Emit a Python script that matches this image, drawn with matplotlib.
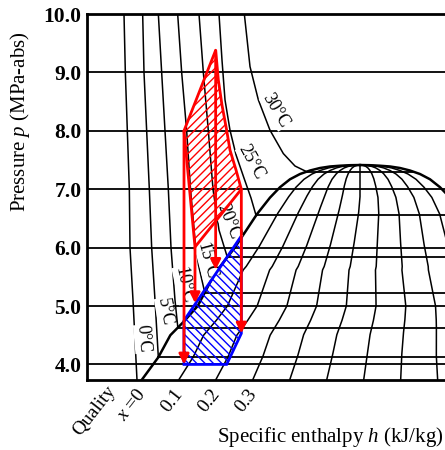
import numpy as np
import matplotlib
matplotlib.use('Agg')
import matplotlib.pyplot as plt
from matplotlib.patches import Polygon

plt.rcParams['font.family'] = ['Liberation Serif', 'DejaVu Serif']
plt.rcParams['mathtext.fontset'] = 'custom'
plt.rcParams['mathtext.rm'] = 'Liberation Serif'
plt.rcParams['mathtext.it'] = 'Liberation Serif:italic'
plt.rcParams['hatch.linewidth'] = 1.0

# ---------------- data (h in kJ/kg, p in MPa) ----------------
p_ticks = [4.0, 5.0, 6.0, 7.0, 8.0, 9.0, 10.0]

# saturation dome (liquid and vapour branches share pressure nodes)
dome_p = [3.733, 4.122, 4.5, 4.731, 5.0, 5.616, 5.673, 6.0, 6.574, 6.856, 7.034,
          7.170, 7.260, 7.320, 7.363, 7.389, 7.402, 7.411, 7.414]
liq_h = [182.8, 192.8, 200.0, 208.0, 216.4, 227.8, 229.8, 238.7, 252.0, 259.8, 265.8,
         271.8, 277.8, 283.8, 289.8, 295.8, 301.8, 307.8, 313.8]
vap_h = [404.8, 401.3, 399.6, 397.5, 394.8, 386.6, 386.0, 381.0, 373.8, 367.8, 361.8,
         355.8, 349.8, 343.8, 337.8, 331.8, 325.8, 319.8, 313.8]
qualities = [0.1, 0.2, 0.3, 0.4, 0.5, 0.6, 0.7, 0.8, 0.9]

# isotherms (liquid / supercritical part) and saturation pressures
t0_h = [172.2, 173.0, 174.2, 175.4, 175.8, 177.6, 180.0]
t0_p = [10, 9, 8, 7, 6, 5.1, 3.733]
t5_h = [183.4, 184.2, 185.8, 187.4, 188.8, 190.8]
t5_p = [10, 9, 8, 7, 6, 5.1]
t10_h = [192.8, 194.8, 196.8, 198.8, 200.4, 202.8]
t10_p = [10, 9, 8, 7, 6, 5.1]
t15_h = [204.4, 206.8, 209.8, 212.1, 214.8, 216.9]
t15_p = [10, 9, 8, 7, 6.13, 5.7]
t20_h = [217.2, 219.8, 222.8, 225.6, 229.2]
t20_p = [10, 9, 8, 7, 6.3]
t25_h = [229.2, 231.0, 232.8, 235.8, 239.4, 244.2, 248.4]
t25_p = [10, 9.21, 8.53, 8.01, 7.59, 7.19, 6.85]
t30_h = [244.4, 247.8, 252.8, 259.8, 267.8, 274.8]
t30_p = [10, 9.10, 8.53, 8.01, 7.61, 7.397]
t_sat_p = [None, 4.122, 4.63, 5.23, 5.835, 6.55, 7.30]
t_names = ['0°C', '5°C', '10°C', '15°C', '20°C', '25°C', '30°C']
t_label_h = [183.6, 196.8, 208.2, 222.0, 234.6, 248.8, 263.4]
t_label_p = [4.435, 4.897, 5.36, 5.77, 6.44, 7.457, 8.34]
t_label_rot = [-85, -80, -78, -75, -68, -61, -59]

# cycle (red, hatched high-pressure side)
red_h = [208.2, 227.2, 228.8, 231.0, 233.8, 235.8, 239.4, 242.6, 214.8]
red_p = [8.0, 9.38, 8.87, 8.44, 8.01, 7.67, 7.33, 7.0, 6.01]
arrow_h = [208.2, 214.8, 227.2, 242.6]
arrow_p_start = [8.0, 6.01, 9.38, 7.0]
arrow_p_end = [4.0, 5.05, 5.62, 4.53]
# blue hatched evaporator region
blue_h = [208.2, 242.6, 242.6, 233.8, 208.2]
blue_p = [4.75, 6.20, 4.53, 4.0, 4.0]

quality_labels = ['$x$ =0', '0.1', '0.2', '0.3']
quality_label_x = [0.0, 0.1, 0.2, 0.3]

# ---------------- figure ----------------
W, H = 445, 450
fig = plt.figure(figsize=(W / 100, H / 100), dpi=100)
ax = fig.add_axes([87 / W, (H - 380) / H, (460 - 87) / W, (380 - 14) / H])
ax.set_xlim(150, 373.8)
ax.set_ylim(3.733, 10.0)

for s in ['left', 'top', 'bottom']:
    ax.spines[s].set_linewidth(2.0)
ax.spines['right'].set_visible(False)

ax.set_xticks([])
ax.set_yticks(p_ticks)
ax.set_yticklabels(['%.1f' % v for v in p_ticks])
ax.tick_params(axis='y', length=0, pad=4, labelsize=15.5)
for lab in ax.get_yticklabels():
    lab.set_fontweight('bold')

for pv in p_ticks[:-1]:
    ax.axhline(pv, color='black', lw=1.3, zorder=1)

# dome
ax.plot(liq_h, dome_p, color='black', lw=1.8, zorder=2.5)
ax.plot(vap_h, dome_p, color='black', lw=1.8, zorder=2.5)
pg = np.union1d(np.linspace(dome_p[0], dome_p[-1], 300), dome_p)
hl = np.interp(pg, dome_p, liq_h)
hv = np.interp(pg, dome_p, vap_h)
for q in qualities:
    ax.plot(hl + q * (hv - hl), pg, color='black', lw=1.1, zorder=2)

# isotherms
iso_h = [t0_h, t5_h, t10_h, t15_h, t20_h, t25_h, t30_h]
iso_p = [t0_p, t5_p, t10_p, t15_p, t20_p, t25_p, t30_p]
for hh, pp, ps in zip(iso_h, iso_p, t_sat_p):
    hh = list(hh)
    pp = list(pp)
    if ps is not None:
        h_liq = float(np.interp(ps, dome_p, liq_h))
        h_vap = float(np.interp(ps, dome_p, vap_h))
        hh.append(h_liq)
        pp.append(ps)
        ax.plot([h_liq, h_vap], [ps, ps], color='black', lw=1.3, zorder=1.5)
    ax.plot(hh, pp, color='black', lw=1.1, zorder=2)

for name, lh, lp, rot in zip(t_names, t_label_h, t_label_p, t_label_rot):
    ax.text(lh, lp, name, rotation=rot, fontsize=13, ha='center', va='center',
            rotation_mode='anchor', zorder=3,
            bbox=dict(facecolor='white', edgecolor='none', pad=0.3))

# blue region
blue = Polygon(list(zip(blue_h, blue_p)), closed=True, facecolor='none',
               edgecolor='blue', lw=2.0, hatch='\\\\\\\\', zorder=4)
ax.add_patch(blue)

# red region
red = Polygon(list(zip(red_h, red_p)), closed=True, facecolor='none',
              edgecolor='red', lw=2.0, hatch='////', zorder=5)
ax.add_patch(red)

for h0, ps, pe in zip(arrow_h, arrow_p_start, arrow_p_end):
    ax.annotate('', xy=(h0, pe), xytext=(h0, ps),
                arrowprops=dict(arrowstyle='-|>', color='red', lw=2.0,
                                mutation_scale=15, shrinkA=0, shrinkB=0),
                zorder=6)

# quality labels along the bottom
h_bottom_l = liq_h[0]
h_bottom_v = vap_h[0]
for lab, q in zip(quality_labels, quality_label_x):
    hb = h_bottom_l + q * (h_bottom_v - h_bottom_l)
    ax.annotate(lab, xy=(hb, dome_p[0]), xytext=(8, -6), textcoords='offset pixels',
                rotation=52, ha='right', va='top', fontsize=14, annotation_clip=False)
ax.annotate('Quality', xy=(h_bottom_l, dome_p[0]), xytext=(-22, -3),
            textcoords='offset pixels', rotation=52, ha='right', va='top',
            fontsize=14, annotation_clip=False)

# axis labels
fig.text(20 / W, 1 - 122 / H, 'Pressure $p$ (MPa-abs)', rotation=90,
         ha='center', va='center', fontsize=15)
fig.text(444 / W, 1 - 437 / H, 'Specific enthalpy $h$ (kJ/kg)',
         ha='right', va='center', fontsize=15)

fig.savefig('out.png', dpi=100)
